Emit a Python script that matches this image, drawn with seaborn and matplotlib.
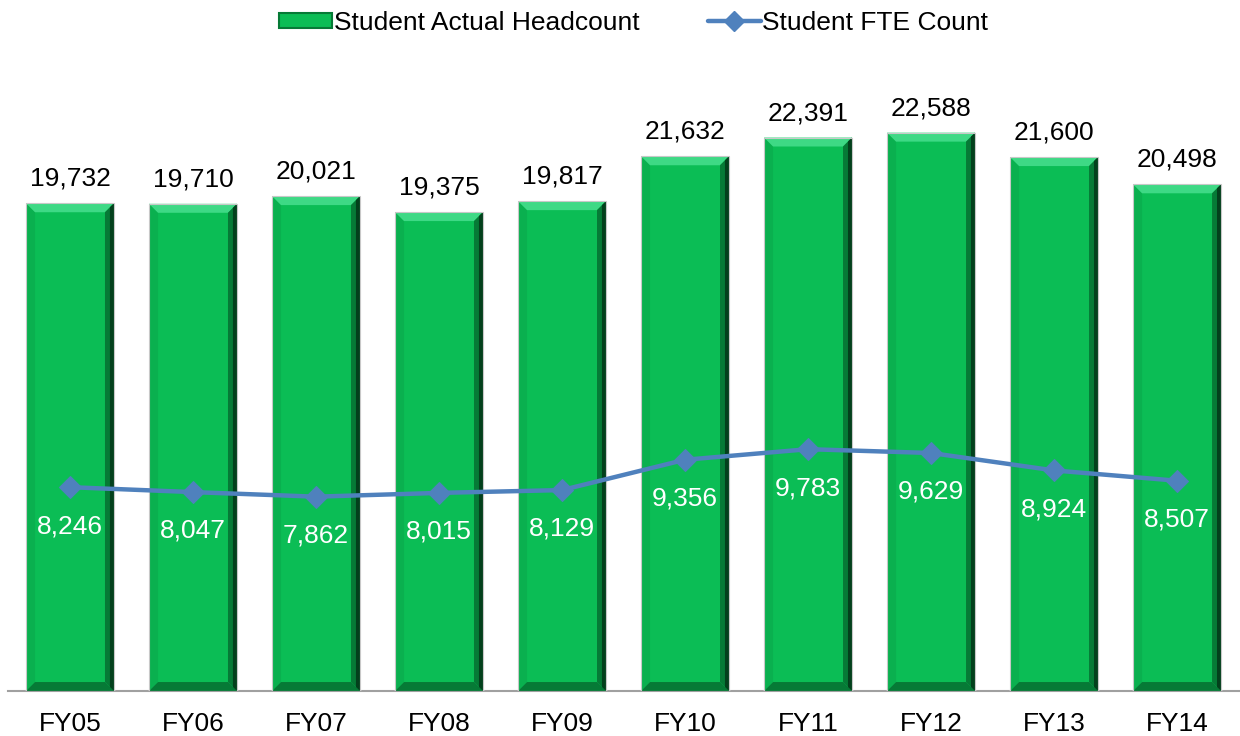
import matplotlib.pyplot as plt
from matplotlib.patches import Polygon, Patch
from matplotlib.lines import Line2D
import pandas as pd
import seaborn as sns

years = ['FY05', 'FY06', 'FY07', 'FY08', 'FY09', 'FY10', 'FY11', 'FY12', 'FY13', 'FY14']
headcount = [19732, 19710, 20021, 19375, 19817, 21632, 22391, 22588, 21600, 20498]
fte = [8246, 8047, 7862, 8015, 8129, 9356, 9783, 9629, 8924, 8507]

GREEN = '#0BBD55'
BLUE = '#4F81BD'


def bevel(ax, patch, px_x, px_y):
    # fake the 3D bevel look of the original bars
    x0, w, h = patch.get_x(), patch.get_width(), patch.get_height()
    x1 = x0 + w
    bx, by = 9 * px_x, 9 * px_y
    top = [(x0, h), (x1, h), (x1 - bx, h - by), (x0 + bx, h - by)]
    right = [(x1, h), (x1, 0), (x1 - bx, by), (x1 - bx, h - by)]
    bottom = [(x0, 0), (x1, 0), (x1 - bx, by), (x0 + bx, by)]
    left = [(x0, h), (x0, 0), (x0 + bx, by), (x0 + bx, h - by)]
    ax.add_patch(Polygon(left, closed=True, facecolor='#0AB04F', edgecolor='none', zorder=3))
    ax.add_patch(Polygon(bottom, closed=True, facecolor='#067A36', edgecolor='none', zorder=3))
    ax.add_patch(Polygon(top, closed=True, facecolor='#3ED985', edgecolor='none', zorder=3))
    ax.add_patch(Polygon(right, closed=True, facecolor='#067A36', edgecolor='none', zorder=3))
    # darker inner part of the right edge
    r2 = [(x1, h), (x1, 0), (x1 - bx * 0.45, by * 0.45), (x1 - bx * 0.45, h - by * 0.45)]
    ax.add_patch(Polygon(r2, closed=True, facecolor='#03401C', edgecolor='none', zorder=3))
    ax.add_patch(Polygon([(x0, h), (x1, h), (x1, 0), (x0, 0)], closed=True,
                         facecolor='none', edgecolor='#C8C8C8', linewidth=0.8, zorder=3))


def main():
    sns.set_theme(style='white')
    plt.rcParams['font.family'] = ['Liberation Sans', 'DejaVu Sans']
    plt.rcParams['text.color'] = 'black'
    plt.rcParams['xtick.color'] = 'black'

    df = pd.DataFrame({'year': years, 'headcount': headcount, 'fte': fte})

    fig = plt.figure(figsize=(12.4, 7.36), dpi=100)
    ax = fig.add_axes([0.00685, 0.0611, 0.992, 0.8397])

    sns.barplot(data=df, x='year', y='headcount', color=GREEN, saturation=1,
                width=0.715, ax=ax, zorder=2)
    ax.set_xlim(-0.5, 9.5)
    ax.set_ylim(0, 25000)

    ax_w = 1240 * 0.992
    ax_h = 736 * 0.8397
    px_x = 10 / ax_w
    px_y = 25000 / ax_h

    for p in list(ax.containers[0]):
        bevel(ax, p, px_x, px_y)

    ax.bar_label(ax.containers[0], labels=[f'{v:,}' for v in headcount],
                 padding=9, fontsize=19, color='black')

    sns.lineplot(data=df, x='year', y='fte', sort=False, color=BLUE, linewidth=3.2,
                 marker='D', markersize=11, markeredgecolor=BLUE, ax=ax, zorder=5)

    for i, v in enumerate(fte):
        ax.annotate(f'{v:,}', (i, v), xytext=(0, -28), textcoords='offset points',
                    ha='center', va='center', fontsize=19, color='white', zorder=6)

    ax.set_xlabel('')
    ax.set_ylabel('')
    ax.set_yticks([])
    ax.tick_params(axis='x', labelsize=19, pad=15, length=0, labelcolor='black')
    for s in ['top', 'right', 'left']:
        ax.spines[s].set_visible(False)
    ax.spines['bottom'].set_color('#A0A0A0')
    ax.spines['bottom'].set_linewidth(1.5)
    ax.spines['bottom'].set_zorder(1)

    handles = [Patch(facecolor=GREEN, edgecolor='#067A36', linewidth=1.5),
               Line2D([0], [0], color=BLUE, linewidth=3.2, marker='D', markersize=10)]
    fig.legend(handles, ['Student Actual Headcount', 'Student FTE Count'],
               loc='upper center', bbox_to_anchor=(0.511, 1.018), ncol=2, frameon=False,
               fontsize=19, handlelength=2.0, handleheight=0.5, handletextpad=0.05,
               columnspacing=2.6, labelcolor='black')

    fig.savefig('out.png', dpi=100)


if __name__ == '__main__':
    main()
